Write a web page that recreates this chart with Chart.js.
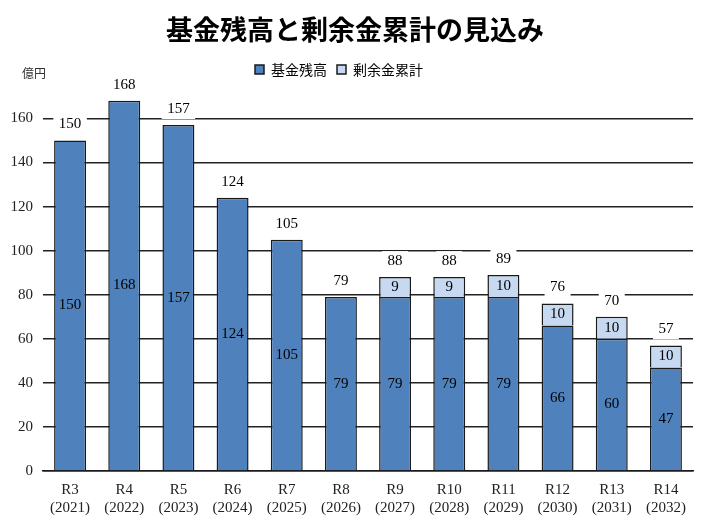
<!DOCTYPE html>
<html lang="ja">
<head>
<meta charset="utf-8">
<title>基金残高と剰余金累計の見込み</title>
<script src="https://cdn.jsdelivr.net/npm/chart.js@4/dist/chart.umd.min.js"></script>
<style>
  body { margin: 0; background: #fff; }
  #wrap { width: 710px; height: 524px; }
</style>
</head>
<body>
<div id="wrap"><canvas id="fundChart" width="710" height="524"></canvas></div>
<script>
// data
const categories = ['R3', 'R4', 'R5', 'R6', 'R7', 'R8', 'R9', 'R10', 'R11', 'R12', 'R13', 'R14'];
const years = ['(2021)', '(2022)', '(2023)', '(2024)', '(2025)', '(2026)', '(2027)', '(2028)', '(2029)', '(2030)', '(2031)', '(2032)'];
const fundBalance = [150, 168, 157, 124, 105, 79, 79, 79, 79, 66, 60, 47];
const surplusTotal = [0, 0, 0, 0, 0, 0, 9, 9, 10, 10, 10, 10];
const yTicks = [0, 20, 40, 60, 80, 100, 120, 140, 160];

const serif = '"Liberation Serif", "DejaVu Serif", serif';
const gothic = '"Noto Sans CJK JP", "Noto Sans", sans-serif';

// labels inside bars + totals on top (white box hides grid line)
const barLabels = {
  id: 'barLabels',
  afterDatasetsDraw(chart) {
    const ctx = chart.ctx;
    const m0 = chart.getDatasetMeta(0);
    const m1 = chart.getDatasetMeta(1);
    ctx.save();
    ctx.font = '15px ' + serif;
    ctx.textAlign = 'center';
    ctx.textBaseline = 'middle';
    categories.forEach((c, i) => {
      const b = m0.data[i];
      ctx.fillStyle = '#000';
      ctx.fillText(fundBalance[i], b.x, (b.y + b.base) / 2);
      let top = b.y;
      if (surplusTotal[i] > 0) {
        const s = m1.data[i];
        ctx.fillText(surplusTotal[i], s.x, (s.y + s.base) / 2);
        top = s.y;
      }
      const total = fundBalance[i] + surplusTotal[i];
      const w = ctx.measureText(String(total)).width + 11;
      const y = top - 16;
      ctx.fillStyle = '#fff';
      ctx.fillRect(b.x - w / 2, y - 10, w, 20);
      ctx.fillStyle = '#000';
      ctx.fillText(total, b.x, y);
    });
    ctx.font = '12px ' + gothic;
    ctx.textAlign = 'left';
    ctx.fillStyle = '#333';
    ctx.fillText('億円', 22, 73);
    ctx.restore();
  }
};

// extra room under legend, and nudge title / legend sideways
const headerTweak = {
  id: 'headerTweak',
  beforeInit(chart) {
    const fit = chart.legend.fit;
    chart.legend.fit = function () {
      fit.bind(chart.legend)();
      this.height += 10;
    };
  },
  afterLayout(chart) {
    chart.titleBlock.left += 8.5;
    chart.titleBlock.right += 8.5;
    chart.legend.left -= 7.5;
    chart.legend.right -= 7.5;
  }
};

const ctx = document.getElementById('fundChart').getContext('2d');
new Chart(ctx, {
  type: 'bar',
  data: {
    labels: categories.map((c, i) => [c, years[i]]),
    datasets: [
      {
        label: '基金残高',
        data: fundBalance,
        backgroundColor: '#4f81bd',
        borderColor: '#1a1a1a',
        borderWidth: 1.5,
        barPercentage: 0.59,
        categoryPercentage: 1
      },
      {
        label: '剰余金累計',
        data: surplusTotal,
        backgroundColor: '#c6d9f1',
        borderColor: '#1a1a1a',
        borderWidth: 1.5,
        barPercentage: 0.59,
        categoryPercentage: 1
      }
    ]
  },
  options: {
    responsive: false,
    animation: false,
    layout: { padding: { left: 0, right: 17, top: 0, bottom: 0 } },
    plugins: {
      title: {
        display: true,
        text: '基金残高と剰余金累計の見込み',
        color: '#000',
        font: { family: gothic, size: 27, weight: 'bold' },
        padding: { top: 14, bottom: 6 }
      },
      legend: {
        position: 'top',
        labels: {
          color: '#000',
          font: { family: gothic, size: 14 },
          boxWidth: 9,
          boxHeight: 9,
          padding: 10
        }
      },
      tooltip: { enabled: false }
    },
    scales: {
      x: {
        stacked: true,
        grid: { display: false, drawTicks: false },
        border: { display: true, color: '#1a1a1a', width: 1.5 },
        ticks: { color: '#222', font: { family: serif, size: 15 }, padding: 10, maxRotation: 0 },
        afterFit(s) { s.height = 53; }
      },
      y: {
        stacked: true,
        min: 0,
        max: 170,
        grid: { color: '#222', lineWidth: 1.4, drawTicks: false },
        border: { display: false },
        ticks: { color: '#222', font: { family: serif, size: 15 }, padding: 10 },
        afterBuildTicks(s) { s.ticks = yTicks.map(v => ({ value: v })); },
        afterFit(s) { s.width = 43; }
      }
    }
  },
  plugins: [barLabels, headerTweak]
});
</script>
</body>
</html>
